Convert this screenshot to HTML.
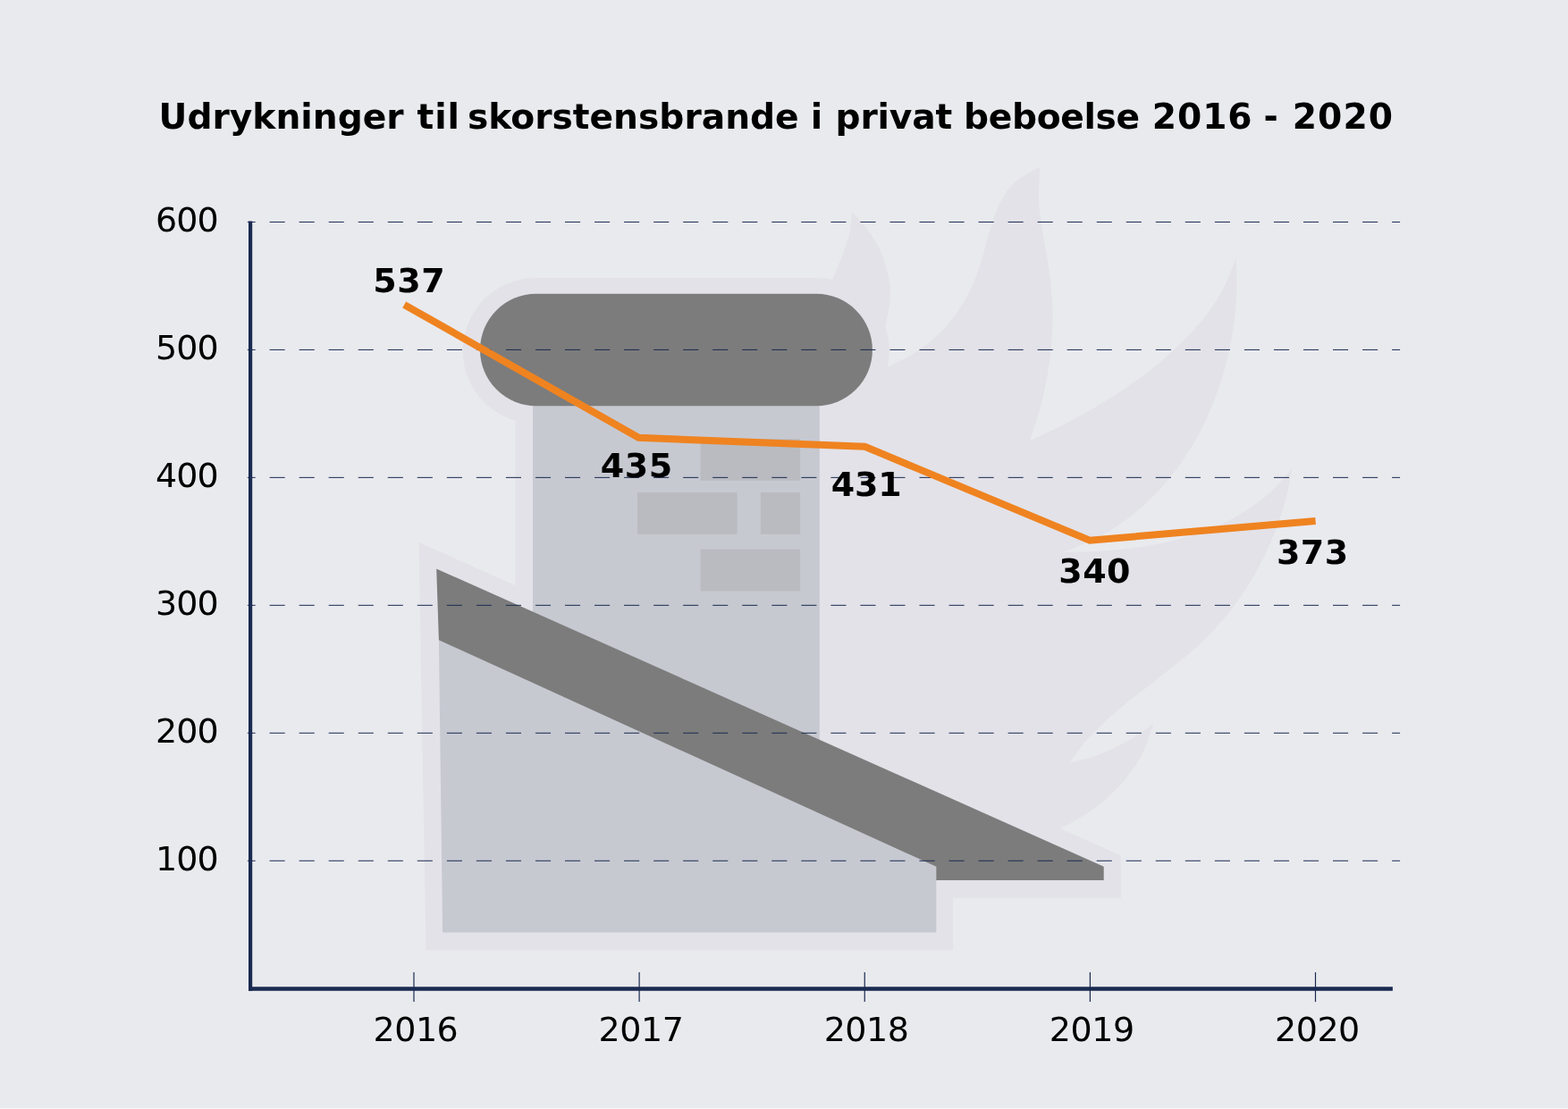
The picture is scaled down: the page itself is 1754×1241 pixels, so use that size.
<!DOCTYPE html>
<html lang="da">
<head>
<meta charset="utf-8">
<title>Udrykninger til skorstensbrande i privat beboelse 2016 - 2020</title>
<style>
html,body{margin:0;padding:0;background:#e9eaee;}
body{width:1754px;height:1241px;overflow:hidden;position:relative;}
svg{display:block;position:absolute;left:0;top:0;}
text{font-family:"DejaVu Sans","Liberation Sans",sans-serif;fill:#000;}
.reg text{font-size:38px;}
.bold text{font-size:38px;font-weight:bold;}
.title{font-size:39.2px;font-weight:bold;}
.edge{position:absolute;left:0;top:1240px;width:1754px;height:1px;background:#f8f8fa;}
</style>
</head>
<body>
<svg width="1754" height="1241" viewBox="0 0 1754 1241">
<rect width="1754" height="1241" fill="#e9eaee"/>
<!-- backdrop: halo + flames -->
<g fill="#e3e2e8">
<path d="M925.0 330.0 L925.0 330.0 C926.4 326.2 930.4 314.7 933.4 307.1 C936.3 299.5 939.9 292.0 942.7 284.4 C945.5 276.8 948.4 269.2 950.2 261.2 C952.0 253.3 952.8 241.0 953.3 236.9 L953.3 236.9 C957.0 241.4 969.4 254.3 975.6 264.1 C981.8 273.9 987.0 284.7 990.4 295.7 C993.8 306.7 995.9 318.4 996.0 329.8 C996.0 341.3 991.5 358.9 990.6 364.7 L990.6 364.7 C989.7 368.9 984.5 382.4 985.0 390.0 C985.5 397.6 992.0 407.2 993.4 410.6 L993.4 410.6 C998.4 408.0 1014.0 400.9 1023.2 395.0 C1032.4 389.0 1041.0 382.2 1048.7 374.8 C1056.5 367.4 1063.5 359.3 1069.7 350.7 C1075.9 342.1 1081.4 332.7 1086.0 323.0 C1090.7 313.3 1094.2 302.8 1097.6 292.3 C1101.0 281.9 1103.2 270.7 1106.4 260.3 C1109.6 249.9 1112.4 239.2 1117.1 229.9 C1121.8 220.6 1126.7 211.6 1134.5 204.4 C1142.2 197.2 1158.5 189.7 1163.3 186.8 L1163.3 186.8 C1163.1 193.2 1161.5 212.4 1162.1 225.1 C1162.7 237.9 1165.1 250.6 1167.0 263.4 C1168.9 276.2 1171.8 289.0 1173.5 301.8 C1175.2 314.6 1176.7 327.5 1177.3 340.4 C1177.8 353.3 1177.6 366.2 1176.7 379.1 C1175.8 392.0 1174.2 404.9 1172.1 417.6 C1169.9 430.4 1167.1 443.1 1163.8 455.7 C1160.5 468.3 1154.1 486.9 1152.2 493.1 L1152.2 493.1 C1157.4 490.6 1173.1 483.5 1183.5 478.3 C1194.0 473.1 1204.4 467.6 1214.7 461.8 C1225.0 456.0 1235.3 449.9 1245.3 443.5 C1255.3 437.1 1265.2 430.3 1274.7 423.3 C1284.3 416.2 1293.7 408.9 1302.6 401.1 C1311.5 393.4 1320.2 385.3 1328.3 376.9 C1336.4 368.4 1344.1 359.6 1351.0 350.3 C1357.9 341.0 1364.2 331.2 1369.5 320.9 C1374.8 310.6 1380.5 293.9 1382.7 288.5 L1382.7 288.5 C1382.8 295.3 1383.8 315.6 1383.2 329.3 C1382.7 342.9 1381.3 356.7 1379.2 370.2 C1377.1 383.8 1374.3 397.4 1370.7 410.6 C1367.1 423.9 1362.8 437.1 1357.7 449.8 C1352.7 462.5 1346.9 475.0 1340.4 487.0 C1333.9 498.9 1326.6 510.6 1318.7 521.5 C1310.7 532.4 1302.1 542.9 1292.7 552.6 C1283.3 562.2 1273.3 571.3 1262.5 579.5 C1251.7 587.7 1240.3 595.2 1228.1 601.6 C1216.0 608.0 1196.0 615.3 1189.6 618.1 L1189.6 618.1 C1195.4 617.9 1212.6 617.8 1224.3 617.1 C1236.0 616.5 1248.0 615.6 1259.8 614.1 C1271.7 612.7 1283.6 611.0 1295.3 608.7 C1307.0 606.3 1318.7 603.5 1330.0 600.1 C1341.3 596.6 1352.5 592.6 1363.2 587.8 C1373.9 583.0 1384.3 577.6 1394.1 571.3 C1403.8 565.0 1413.2 558.0 1421.9 550.0 C1430.5 542.0 1441.8 527.8 1445.8 523.4 L1445.8 523.4 C1444.6 528.8 1441.7 545.3 1438.9 555.9 C1436.1 566.6 1432.8 577.1 1429.1 587.4 C1425.4 597.7 1421.2 607.8 1416.6 617.7 C1412.0 627.5 1406.9 637.1 1401.5 646.5 C1396.0 655.8 1390.0 664.8 1383.7 673.5 C1377.3 682.3 1370.6 690.7 1363.4 698.8 C1356.2 706.8 1348.6 714.5 1340.6 721.9 C1332.7 729.3 1324.3 736.2 1315.8 743.1 C1307.4 750.0 1298.6 756.6 1290.0 763.4 C1281.3 770.1 1272.5 776.7 1264.0 783.6 C1255.5 790.5 1247.1 797.4 1239.1 804.7 C1231.1 812.1 1223.2 819.6 1216.1 827.8 C1208.9 836.0 1199.4 849.4 1196.1 853.7 L1196.1 853.7 C1200.3 852.6 1213.3 849.9 1221.6 847.2 C1229.9 844.4 1238.0 841.0 1245.9 837.3 C1253.8 833.5 1261.4 829.1 1268.9 824.5 C1276.3 819.8 1286.8 811.9 1290.4 809.4 L1290.4 809.4 C1288.6 814.5 1284.2 830.2 1279.6 839.8 C1275.1 849.3 1269.4 858.2 1263.1 866.6 C1256.8 874.9 1249.6 882.7 1241.9 889.8 C1234.2 897.0 1225.7 903.6 1217.0 909.5 C1208.2 915.5 1198.8 920.8 1189.3 925.6 C1179.8 930.3 1164.9 935.9 1160.0 938.0 L925 900 Z"/>
<path d="M468.5 606.8 L1253.8 957.3 L1253.8 1005 L1065.9 1005 L1065.9 1063.6 L476.5 1063.6 Z"/>
<rect x="576.6" y="400" width="359.5" height="440"/>
<rect x="517.7" y="311" width="477.2" height="163" rx="81.5" ry="81.5"/>
</g>
<!-- chimney body -->
<rect x="596" y="440" width="320.8" height="400" fill="#c7c9d1"/>
<g fill="#babbc0">
<rect x="783.6" y="491.2" width="111.5" height="46.5"/>
<rect x="713" y="551.1" width="111.6" height="46.7"/>
<rect x="850.8" y="551.1" width="44.3" height="46.7"/>
<rect x="783.6" y="614.7" width="111.5" height="46.9"/>
</g>
<!-- wall -->
<path d="M490.9 716 L1047.3 969.6 L1047.3 1043.6 L495.1 1043.6 Z" fill="#c7c9d1"/>
<!-- roof -->
<path d="M488.2 636.4 L1234.7 969.8 L1234.7 985.1 L1047.3 985.1 L1047.3 969.8 L490.9 716.2 Z" fill="#7c7c7c"/>
<!-- cap -->
<rect x="537" y="328.8" width="438.9" height="125.4" rx="62.7" ry="62.7" fill="#7c7c7c"/>
<!-- grid -->
<g stroke="#1a2a50" stroke-width="1" stroke-dasharray="17.1 15.94" stroke-dashoffset="8.24" fill="none">
<line x1="276.8" x2="1566.1" y1="248.45" y2="248.45"/>
<line x1="276.8" x2="1566.1" y1="391.41" y2="391.41"/>
<line x1="276.8" x2="1566.1" y1="534.37" y2="534.37"/>
<line x1="276.8" x2="1566.1" y1="677.33" y2="677.33"/>
<line x1="276.8" x2="1566.1" y1="820.29" y2="820.29"/>
<line x1="276.8" x2="1566.1" y1="963.25" y2="963.25"/>
</g>
<!-- axes -->
<g stroke="#1a2a50" fill="none">
<line x1="280.1" x2="280.1" y1="247.4" y2="1108.7" stroke-width="4.2"/>
<line x1="278" x2="1557.9" y1="1106.45" y2="1106.45" stroke-width="4.5"/>
<g stroke-width="1.2">
<line x1="463.00" x2="463.00" y1="1088" y2="1121.1"/>
<line x1="715.10" x2="715.10" y1="1088" y2="1121.1"/>
<line x1="967.25" x2="967.25" y1="1088" y2="1121.1"/>
<line x1="1219.40" x2="1219.40" y1="1088" y2="1121.1"/>
<line x1="1471.50" x2="1471.50" y1="1088" y2="1121.1"/>
</g>
</g>
<!-- data line -->
<polyline points="452.2,340.9 714.4,489.8 967.4,499.7 1219,604.7 1471.6,583.1" fill="none" stroke="#ef8320" stroke-width="8" stroke-linejoin="miter" stroke-linecap="butt"/>
<!-- labels -->
<g class="reg">
<text x="243.8" y="258.8" text-anchor="end" letter-spacing="-0.95">600</text>
<text x="243.8" y="401.8" text-anchor="end" letter-spacing="-0.95">500</text>
<text x="243.8" y="544.8" text-anchor="end" letter-spacing="-0.95">400</text>
<text x="243.8" y="687.7" text-anchor="end" letter-spacing="-0.95">300</text>
<text x="243.8" y="830.7" text-anchor="end" letter-spacing="-0.95">200</text>
<text x="243.8" y="973.6" text-anchor="end" letter-spacing="-0.95">100</text>
<text x="464.9" y="1164.7" text-anchor="middle" letter-spacing="-0.45">2016</text>
<text x="717.0" y="1164.7" text-anchor="middle" letter-spacing="-0.45">2017</text>
<text x="969.1" y="1164.7" text-anchor="middle" letter-spacing="-0.45">2018</text>
<text x="1221.3" y="1164.7" text-anchor="middle" letter-spacing="-0.45">2019</text>
<text x="1473.4" y="1164.7" text-anchor="middle" letter-spacing="-0.45">2020</text>
</g>
<g class="bold">
<text x="417.3" y="326.6" letter-spacing="0.5">537</text>
<text x="671.8" y="534.3" letter-spacing="0.5">435</text>
<text x="929.7" y="554.9" letter-spacing="-0.2">431</text>
<text x="1184.2" y="652.2" letter-spacing="0.5">340</text>
<text x="1427.9" y="631.1" letter-spacing="0.5">373</text>
</g>
<text class="title" y="144.3" xml:space="preserve" transform="translate(0.3 0)"><tspan x="177.3" letter-spacing="0">Udrykninger </tspan><tspan x="466.3" letter-spacing="0.85">til </tspan><tspan x="522.6" letter-spacing="0">skorstensbrande </tspan><tspan x="906.4" letter-spacing="0">i </tspan><tspan x="934.2" letter-spacing="-0.16">privat </tspan><tspan x="1077.7" letter-spacing="-0.33">beboelse </tspan><tspan x="1288.5" letter-spacing="0.9">2016 </tspan><tspan x="1413.3" letter-spacing="0">- </tspan><tspan x="1445.4" letter-spacing="1.1">2020</tspan></text>
</svg>
<div class="edge"></div>
</body>
</html>
